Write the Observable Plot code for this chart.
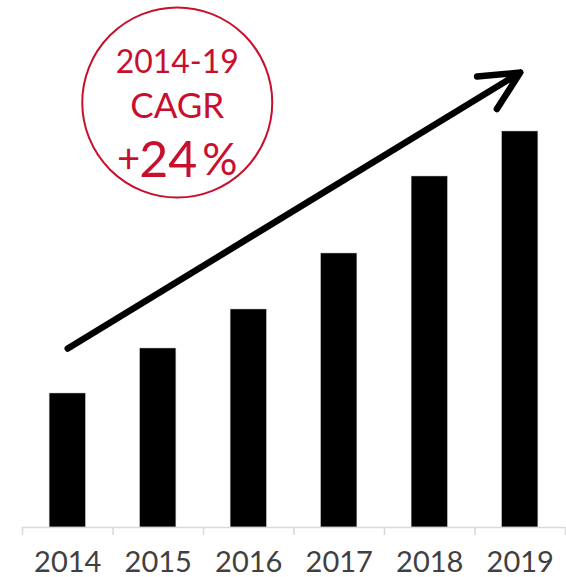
<!DOCTYPE html>
<html>
<head>
<meta charset="utf-8">
<script src="https://cdn.jsdelivr.net/npm/d3@7"></script>
<script src="https://cdn.jsdelivr.net/npm/@observablehq/plot@0.6"></script>
<style>
  html, body { margin: 0; padding: 0; background: #fff; }
  #chart svg { display: block; }
</style>
</head>
<body>
<div id="chart"></div>
<script>
// ---- data ----
const years = [2014, 2015, 2016, 2017, 2018, 2019];
const values = [134, 179, 218, 274, 351, 396];
const bandEdges = [2013.5, 2014.5, 2015.5, 2016.5, 2017.5, 2018.5, 2019.5];
const trendArrow = [{ fromYear: 2014, fromValue: 179, toYear: 2019, toValue: 455 }];
const callout = [{ year: 2015.21, value: 425 }];
const calloutPeriod = "2014-19";
const calloutMetric = "CAGR";
const calloutSign = "+";
const calloutNumber = "24";
const calloutPercent = "%";

const data = years.map((year, i) => ({ year, value: values[i] }));
const red = "#c8102e";
const barHalf = 0.2;

const chart = Plot.plot({
  width: 566,
  height: 577,
  marginLeft: 22,
  marginRight: 1,
  marginTop: 27,
  marginBottom: 50,
  style: { fontFamily: "Lato, 'Open Sans', sans-serif", background: "#fff" },
  x: { type: "linear", domain: [2013.5, 2019.5] },
  y: { domain: [0, 500], axis: null },
  marks: [
    Plot.rectY(data, { x1: d => d.year - barHalf, x2: d => d.year + barHalf, y: "value", fill: "black", stroke: "#bbb", strokeWidth: 0.5 }),
    Plot.ruleY([0], { stroke: "#d9d9d9", strokeWidth: 1.5 }),
    Plot.axisX({ ticks: bandEdges, tickFormat: () => "", tickSize: 8, stroke: "#d9d9d9", strokeWidth: 1.5, label: null }),
    Plot.axisX({ ticks: years, tickSize: 0, tickPadding: 24, tickFormat: d => String(d), fontSize: 29, fill: "#404040", label: null }),
    Plot.arrow(trendArrow, {
      x1: "fromYear", y1: "fromValue", x2: "toYear", y2: "toValue",
      stroke: "black", strokeWidth: 6.5, headLength: 10, headAngle: 52, strokeLinejoin: "round", strokeLinecap: "round"
    }),
    Plot.dot(callout, { x: "year", y: "value", r: 95, stroke: red, strokeWidth: 2, fill: "none" }),
    Plot.text(callout, { x: "year", y: "value", text: () => calloutPeriod, dy: -40, fontSize: 32, fill: red, lineAnchor: "middle" }),
    Plot.text(callout, { x: "year", y: "value", text: () => calloutMetric, dy: 4, fontSize: 35, fill: red, lineAnchor: "middle" }),
    Plot.text(callout, { x: "year", y: "value", text: () => calloutSign, dx: -37, dy: 58, fontSize: 40, fill: red, textAnchor: "end", lineAnchor: "middle" }),
    Plot.text(callout, { x: "year", y: "value", text: () => calloutNumber, dx: -9, dy: 58, fontSize: 50, fill: red, lineAnchor: "middle" }),
    Plot.text(callout, { x: "year", y: "value", text: () => calloutPercent, dx: 25, dy: 58, fontSize: 44, fill: red, textAnchor: "start", lineAnchor: "middle" })
  ]
});
document.getElementById("chart").appendChild(chart);
</script>
</body>
</html>
